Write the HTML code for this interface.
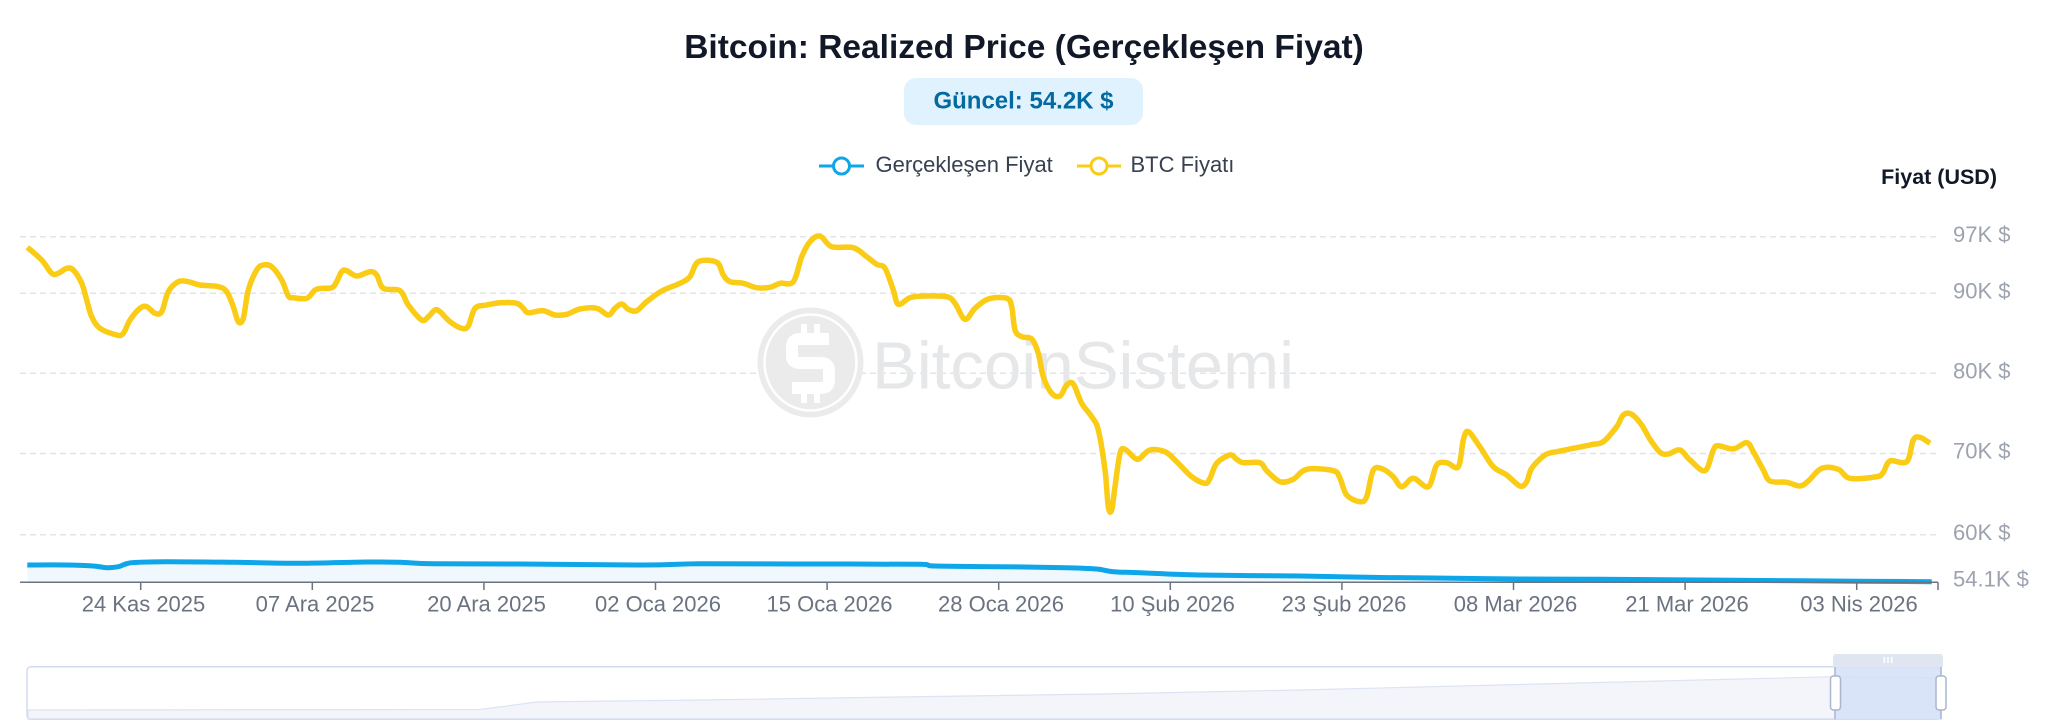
<!DOCTYPE html>
<html>
<head>
<meta charset="utf-8">
<style>
html,body{margin:0;padding:0;background:#ffffff;}
svg{display:block;}
text{font-family:"Liberation Sans",Arial,sans-serif;}
</style>
</head>
<body>
<svg id="chart" width="2048" height="727" viewBox="0 0 2048 727" xmlns="http://www.w3.org/2000/svg">
  <rect width="2048" height="727" fill="#ffffff"/>

  <!-- Title -->
  <text x="1024" y="58" text-anchor="middle" font-size="33.5" font-weight="bold" fill="#111827">Bitcoin: Realized Price (Gerçekleşen Fiyat)</text>

  <!-- Badge -->
  <rect x="904" y="78" width="239" height="47" rx="12" fill="#e0f2fe"/>
  <text x="1023.5" y="108.3" text-anchor="middle" font-size="24" font-weight="bold" fill="#0369a1">Güncel: 54.2K $</text>

  <!-- Legend -->
  <line x1="819" y1="166" x2="864" y2="166" stroke="#0ea5e9" stroke-width="3"/>
  <circle cx="841.5" cy="166" r="8" fill="#ffffff" stroke="#0ea5e9" stroke-width="3"/>
  <text x="875.5" y="172" font-size="22" fill="#374151">Gerçekleşen Fiyat</text>
  <line x1="1077" y1="166" x2="1121" y2="166" stroke="#facc15" stroke-width="3"/>
  <circle cx="1099" cy="166" r="8" fill="#ffffff" stroke="#facc15" stroke-width="3"/>
  <text x="1130.5" y="172" font-size="22" fill="#374151">BTC Fiyatı</text>

  <!-- Axis title -->
  <text x="1997" y="184" text-anchor="end" font-size="21.5" font-weight="bold" fill="#111827">Fiyat (USD)</text>

  <!-- Grid -->
  <g stroke="#e2e4e9" stroke-width="1.5" stroke-dasharray="6 4">
    <line x1="20" y1="236.8" x2="1938" y2="236.8"/>
    <line x1="20" y1="293.3" x2="1938" y2="293.3"/>
    <line x1="20" y1="373.3" x2="1938" y2="373.3"/>
    <line x1="20" y1="453.5" x2="1938" y2="453.5"/>
    <line x1="20" y1="534.8" x2="1938" y2="534.8"/>
  </g>

  <!-- Y labels -->
  <g font-size="22" fill="#9ca3af">
    <text x="1953" y="242">97K $</text>
    <text x="1953" y="298.5">90K $</text>
    <text x="1953" y="378.5">80K $</text>
    <text x="1953" y="458.7">70K $</text>
    <text x="1953" y="540">60K $</text>
    <text x="1953" y="586.5">54.1K $</text>
  </g>

  <!-- Watermark -->
  <g>
    <ellipse cx="810.5" cy="362.5" rx="53" ry="55" fill="#ebebec"/>
    <ellipse cx="810.5" cy="362.5" rx="46" ry="48" fill="none" stroke="#ffffff" stroke-width="2.5"/>
    <path d="M829,339 L800,339 Q792,339 792,347 L792,356 Q792,363 800,363 L821,363 Q829,363 829,371 L829,380 Q829,388 821,388 L792,388" fill="none" stroke="#ffffff" stroke-width="12" stroke-linejoin="round"/>
    <rect x="801" y="324" width="6" height="13" fill="#ffffff"/>
    <rect x="814" y="324" width="6" height="13" fill="#ffffff"/>
    <rect x="801" y="390" width="6" height="13" fill="#ffffff"/>
    <rect x="814" y="390" width="6" height="13" fill="#ffffff"/>
    <text x="872" y="388.3" font-size="67" fill="#e6e7e9" textLength="422" lengthAdjust="spacingAndGlyphs">BitcoinSistemi</text>
  </g>

  <!-- Blue area + line -->
  <polygon fill="#f0f8fd" points="27.3,565 66.7,565 93.3,566 106.7,567.7 118.3,566.7 131.7,562.7 166.7,561.7 233.3,562.3 300,563.3 366.7,562 400,562.3 433.3,563.7 520,564 643,565 700,563.8 800,564 920,564.3 935,566 1000,566.7 1066.7,567.7 1096.7,569 1113.3,571.7 1140,572.7 1200,575 1300,576 1366.7,577.3 1433.3,578 1520,579 1600,579.3 1700,580 1800,580.8 1931.7,581.7 1931.7,582.3 27.3,582.3"/>
  <polyline class="smooth" fill="none" stroke="#0ea5e9" stroke-width="5" stroke-linejoin="round" stroke-linecap="butt" points="27.3,565 66.7,565 93.3,566 106.7,567.7 118.3,566.7 131.7,562.7 166.7,561.7 233.3,562.3 300,563.3 366.7,562 400,562.3 433.3,563.7 520,564 643,565 700,563.8 800,564 920,564.3 935,566 1000,566.7 1066.7,567.7 1096.7,569 1113.3,571.7 1140,572.7 1200,575 1300,576 1366.7,577.3 1433.3,578 1520,579 1600,579.3 1700,580 1800,580.8 1931.7,581.7"/>

  <!-- Yellow line -->
  <polyline class="smooth" fill="none" stroke="#facc15" stroke-width="5.5" stroke-linejoin="round" stroke-linecap="butt" points="27.3,247.3 41.7,260 51.7,273.3 58.3,273.3 66.7,268.3 73.3,270 81.7,283.3 86.7,300 91.7,316.7 100,328.3 116.7,335 123.3,333.3 130,320 140,308.3 146.7,306.7 155,313.3 161.7,311.7 168.3,291.7 178.3,281.7 188.3,281.7 200,285 218.3,286.7 226.7,291.7 233.3,306.7 238.3,321.7 243.3,318.3 248.3,290 256.7,270 263.3,265 271.7,266.7 281.7,280 288.3,296 293.3,297.7 306.7,298.3 315,290 321.7,288.3 333.3,286.7 341.7,271.7 346.7,270.7 356.7,276 370,271.7 376.7,275 383.3,288.3 400,290.7 408.3,305 421.7,320 428.3,316.7 435,310 440,311.7 450,321.7 461.7,328.3 468.3,326 475,308.3 486.7,305 500,302.7 516.7,303.3 523.3,308.3 528.3,312.7 543.3,310.7 555,315 566.7,314.3 580,309 596.7,308.3 608.3,315 615,308.3 621.7,304 628.3,309.3 636.7,310.7 646.7,301.7 661.7,291 680,283.3 690,276.7 698.3,261.7 716.7,262.3 723.3,275 730,281.7 743.3,283.3 756.7,287.7 770,287.3 780,283.3 793.3,281.7 801.7,256.7 810,241.7 820,236 831.7,246.7 853.3,247.7 866.7,256.7 876.7,264.3 885,268.3 893.3,290 898.3,304.3 910,297.7 923.3,296 946.7,296.7 955,303.3 965,319.3 975,308.3 988.3,299 1006.7,298.3 1011.7,306.7 1015,330 1021.7,336.7 1031.7,339 1038.3,353.3 1043.3,376.7 1051.7,393.3 1060,396 1066.7,385 1073.3,384 1081.7,403.3 1091.7,416.7 1098.3,430 1105,470 1108.3,506.7 1111.7,510 1115,486.7 1120,453.3 1125,449.3 1135,458.3 1140,458.3 1150,450 1165,451.7 1176.7,461.7 1191.7,476.7 1205,483.3 1210,478.3 1216.7,463.3 1230,455 1236.7,459.3 1243.3,462.7 1260,462.7 1266.7,470.7 1280,481.7 1293.3,479.3 1306.7,469.3 1333.3,470.7 1340,478.3 1346.7,495 1360,501.7 1366.7,496.7 1373.3,470 1383.3,469.3 1393.3,476.7 1401.7,486.7 1413.3,478.3 1428.3,486.7 1436.7,465 1446.7,462.7 1458.3,466.7 1463.3,440 1468.3,431.7 1480,447 1493.3,466.7 1506.7,475 1520,486 1526.7,481.7 1531.7,468.3 1545,455 1556.7,451.7 1576.7,447.7 1593.3,444.3 1603.3,441.7 1616.7,426.7 1623.3,415 1631.7,414.3 1641.7,425 1650,439.3 1660,452.3 1668.3,454 1680,450 1690,460 1705,470.7 1713.3,450 1718.3,445.7 1733.3,449 1746.7,442.7 1753.3,451.7 1763.3,470 1770,481 1786.7,482.3 1800,486 1808.3,481 1821.7,468.3 1838.3,469.3 1850,478.3 1876.7,476.7 1883.3,472.3 1890,461 1906.7,461.7 1913.3,440 1920,437.3 1930,443.3"/>

  <!-- X axis -->
  <line x1="20" y1="582.3" x2="1938" y2="582.3" stroke="#6b7280" stroke-width="1.5"/>
  <g stroke="#6b7280" stroke-width="1.5">
    <line x1="140.7" y1="582.3" x2="140.7" y2="590"/>
    <line x1="312.3" y1="582.3" x2="312.3" y2="590"/>
    <line x1="483.9" y1="582.3" x2="483.9" y2="590"/>
    <line x1="655.5" y1="582.3" x2="655.5" y2="590"/>
    <line x1="827.1" y1="582.3" x2="827.1" y2="590"/>
    <line x1="998.7" y1="582.3" x2="998.7" y2="590"/>
    <line x1="1170.3" y1="582.3" x2="1170.3" y2="590"/>
    <line x1="1341.9" y1="582.3" x2="1341.9" y2="590"/>
    <line x1="1513.5" y1="582.3" x2="1513.5" y2="590"/>
    <line x1="1685.1" y1="582.3" x2="1685.1" y2="590"/>
    <line x1="1856.7" y1="582.3" x2="1856.7" y2="590"/>
    <line x1="1938" y1="582.3" x2="1938" y2="590"/>
  </g>
  <g font-size="22" fill="#6b7280" text-anchor="middle">
    <text x="143.5" y="611.7">24 Kas 2025</text>
    <text x="315" y="611.7">07 Ara 2025</text>
    <text x="486.5" y="611.7">20 Ara 2025</text>
    <text x="658" y="611.7">02 Oca 2026</text>
    <text x="829.5" y="611.7">15 Oca 2026</text>
    <text x="1001" y="611.7">28 Oca 2026</text>
    <text x="1172.5" y="611.7">10 Şub 2026</text>
    <text x="1344" y="611.7">23 Şub 2026</text>
    <text x="1515.5" y="611.7">08 Mar 2026</text>
    <text x="1687" y="611.7">21 Mar 2026</text>
    <text x="1859" y="611.7">03 Nis 2026</text>
  </g>

  <!-- Data zoom slider -->
  <polygon fill="#f3f5fa" stroke="#dde3f2" stroke-width="1.2" points="28,710 480,709.5 500,707 536,702 700,700 900,697 1100,694 1300,690 1500,685 1700,680 1833,676.7 1900,677.5 1940,678 1940,719 28,719"/>
  <rect x="27" y="666.7" width="1914" height="52.6" rx="4" fill="none" stroke="#d3dbee" stroke-width="1.5"/>
  <rect x="1835" y="666.7" width="106" height="52.6" fill="#d4e1f8" fill-opacity="0.85"/>
  <line x1="1835" y1="666.7" x2="1835" y2="719.3" stroke="#a9b7d5" stroke-width="1.5"/>
  <line x1="1941" y1="666.7" x2="1941" y2="719.3" stroke="#a9b7d5" stroke-width="1.5"/>
  <path d="M1833,667 L1833,657 Q1833,654 1836,654 L1940,654 Q1943,654 1943,657 L1943,667 Z" fill="#e0e5f2"/>
  <rect x="1883.5" y="657" width="1.6" height="6" fill="#ffffff"/>
  <rect x="1887.2" y="657" width="1.6" height="6" fill="#ffffff"/>
  <rect x="1890.9" y="657" width="1.6" height="6" fill="#ffffff"/>
  <rect x="1830.5" y="676" width="10" height="34" rx="3" fill="#ffffff" stroke="#a9b6cc" stroke-width="1.5"/>
  <rect x="1936" y="676" width="10" height="34" rx="3" fill="#ffffff" stroke="#a9b6cc" stroke-width="1.5"/>
</svg>
<script>
(function(){
  var NS="http://www.w3.org/2000/svg";
  var lines=document.querySelectorAll("polyline.smooth");
  for(var i=0;i<lines.length;i++){
    var pl=lines[i];
    var raw=pl.getAttribute("points").trim().split(/\s+/);
    var p=[];
    for(var j=0;j<raw.length;j++){var c=raw[j].split(",");p.push([parseFloat(c[0]),parseFloat(c[1])]);}
    var d="M"+p[0][0]+","+p[0][1];
    for(var k=0;k<p.length-1;k++){
      var p0=p[k-1]||p[k],p1=p[k],p2=p[k+1],p3=p[k+2]||p[k+1];
      var t=1/6;
      var c1x=p1[0]+(p2[0]-p0[0])*t,c1y=p1[1]+(p2[1]-p0[1])*t;
      var c2x=p2[0]-(p3[0]-p1[0])*t,c2y=p2[1]-(p3[1]-p1[1])*t;
      // keep control x within segment to avoid loops
      if(c1x>p2[0])c1x=p2[0]; if(c2x<p1[0])c2x=p1[0];
      d+=" C"+c1x.toFixed(2)+","+c1y.toFixed(2)+" "+c2x.toFixed(2)+","+c2y.toFixed(2)+" "+p2[0]+","+p2[1];
    }
    var path=document.createElementNS(NS,"path");
    path.setAttribute("d",d);
    path.setAttribute("fill","none");
    path.setAttribute("stroke",pl.getAttribute("stroke"));
    path.setAttribute("stroke-width",pl.getAttribute("stroke-width"));
    path.setAttribute("stroke-linejoin","round");
    pl.parentNode.insertBefore(path,pl);
    pl.parentNode.removeChild(pl);
  }
})();
</script>
</body>
</html>
